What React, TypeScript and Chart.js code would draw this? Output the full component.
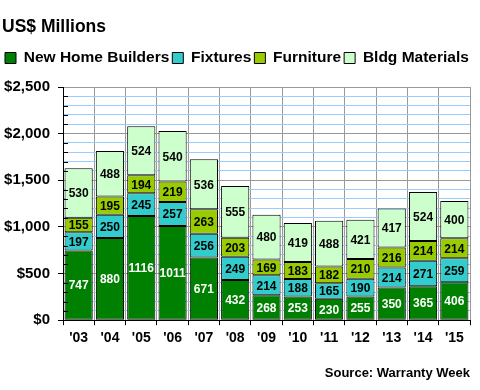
import React, { useEffect, useRef } from 'react';
import { Chart, registerables } from 'chart.js';

Chart.register(...registerables);

const years = ["'03", "'04", "'05", "'06", "'07", "'08", "'09", "'10", "'11", "'12", "'13", "'14", "'15"];
const newHomeBuilders = [747, 880, 1116, 1011, 671, 432, 268, 253, 230, 255, 350, 365, 406];
const fixtures = [197, 250, 245, 257, 256, 249, 214, 188, 165, 190, 214, 271, 259];
const furniture = [155, 195, 194, 219, 263, 203, 169, 183, 182, 210, 216, 214, 214];
const bldgMaterials = [530, 488, 524, 540, 536, 555, 480, 419, 488, 421, 417, 524, 400];

const seriesNames = ['New Home Builders', 'Fixtures', 'Furniture', 'Bldg Materials'];
const seriesColors = ['#008000', '#33CCCC', '#99CC00', '#CCFFCC'];
const labelColors = ['#FFFFFF', '#000000', '#000000', '#000000'];

const FONT = "'Liberation Sans', Arial, sans-serif";

const dataLabelPlugin = {
  id: 'dataLabels',
  afterDatasetsDraw(chart: any) {
    const ctx = chart.ctx;
    ctx.save();
    ctx.font = `bold 12px ${FONT}`;
    ctx.textAlign = 'center';
    ctx.textBaseline = 'middle';
    chart.data.datasets.forEach((ds: any, di: number) => {
      const meta = chart.getDatasetMeta(di);
      meta.data.forEach((el: any, i: number) => {
        const p = el.getProps(['x', 'y', 'base'], true);
        ctx.fillStyle = labelColors[di];
        ctx.fillText(String(ds.data[i]), p.x, (p.y + p.base) / 2 + 1);
      });
    });
    // inner minor tick marks on the value axis
    const y = chart.scales.y;
    const left = chart.chartArea.left;
    ctx.strokeStyle = '#000';
    ctx.lineWidth = 1;
    y.ticks.forEach((t: any) => {
      if (t.value % 500 !== 0) {
        const py = Math.round(y.getPixelForValue(t.value)) + 0.5;
        ctx.beginPath();
        ctx.moveTo(left, py);
        ctx.lineTo(left + 5, py);
        ctx.stroke();
      }
    });
    ctx.restore();
  },
};

export default function App() {
  const ref = useRef<HTMLCanvasElement>(null);

  useEffect(() => {
    document.body.style.margin = '0';
    const datasets = [newHomeBuilders, fixtures, furniture, bldgMaterials].map((d, i) => ({
      label: seriesNames[i],
      data: d,
      xAxisID: 'x',
      yAxisID: 'y',
      backgroundColor: seriesColors[i],
      borderColor: '#000000',
      borderWidth: 1,
      borderSkipped: false,
      barPercentage: 0.9,
      categoryPercentage: 1.0,
    }));
    const chart = new Chart(ref.current as HTMLCanvasElement, {
      type: 'bar',
      data: { labels: years, datasets },
      plugins: [dataLabelPlugin],
      options: {
        animation: false,
        responsive: false,
        layout: { padding: { left: 2, right: 0, top: 0, bottom: 0 } },
        plugins: {
          tooltip: { enabled: false },
          title: {
            display: true,
            text: 'US$ Millions',
            align: 'start',
            color: '#000',
            font: { family: FONT, size: 17.5, weight: 'bold' },
            padding: { top: 16.5, bottom: 9.75 },
          },
          legend: {
            display: true,
            position: 'top',
            align: 'start',
            labels: {
              color: '#000',
              font: { family: FONT, size: 15.5, weight: 'bold' },
              boxWidth: 11,
              boxHeight: 11,
              padding: 3,
              generateLabels: (chart: any) =>
                chart.data.datasets.map((ds: any, i: number) => ({
                  text: ds.label,
                  fillStyle: ds.backgroundColor,
                  strokeStyle: '#000',
                  lineWidth: 1,
                  datasetIndex: i,
                  hidden: false,
                })),
            },
          },
          subtitle: {
            display: true,
            position: 'bottom',
            align: 'end',
            fullSize: false,
            text: 'Source: Warranty Week',
            color: '#000',
            font: { family: FONT, size: 13, weight: 'bold' },
            padding: { top: 0, bottom: 9.2 },
          },
        },
        scales: {
          x: {
            stacked: true,
            grid: {
              display: true,
              offset: true,
              color: '#999999',
              tickColor: '#000000',
              tickLength: 5,
              drawOnChartArea: true,
            },
            border: { display: true, color: '#000000', width: 1 },
            ticks: {
              color: '#000',
              font: { family: FONT, size: 14, weight: 'bold' },
              padding: 5,
              maxRotation: 0,
            },
            afterFit: (s: any) => { s.height = 45; },
          },
          y: {
            stacked: true,
            min: 0,
            max: 2500,
            grid: {
              display: true,
              color: (c: any) => (c.tick && c.tick.value % 500 === 0 ? '#999999' : '#99CCFF'),
              tickColor: (c: any) => (c.tick && c.tick.value % 500 === 0 ? '#000000' : 'rgba(0,0,0,0)'),
              tickLength: 5,
            },
            border: { display: true, color: '#000000', width: 1 },
            ticks: {
              stepSize: 100,
              autoSkip: false,
              color: '#000',
              padding: 8,
              font: { family: FONT, size: 15, weight: 'bold' },
              callback: (v: any) => (Number(v) % 500 === 0 ? '$' + Number(v).toLocaleString('en-US') : ''),
            },
            afterFit: (s: any) => { s.width = 61; },
          },
          x2: {
            type: 'category',
            position: 'top',
            display: true,
            grid: { display: false },
            border: { display: false },
            ticks: { display: false },
            afterFit: (s: any) => { s.height = 11.25; },
          },
          y2: {
            type: 'linear',
            position: 'right',
            display: true,
            grid: { display: false },
            border: { display: false },
            ticks: { display: false },
            afterFit: (s: any) => { s.width = 10; },
          },
        },
      },
    } as any);
    return () => chart.destroy();
  }, []);

  return (
    <div style={{ width: 480, height: 390, background: '#fff' }}>
      <canvas ref={ref} width={480} height={390} style={{ display: 'block' }} />
    </div>
  );
}
